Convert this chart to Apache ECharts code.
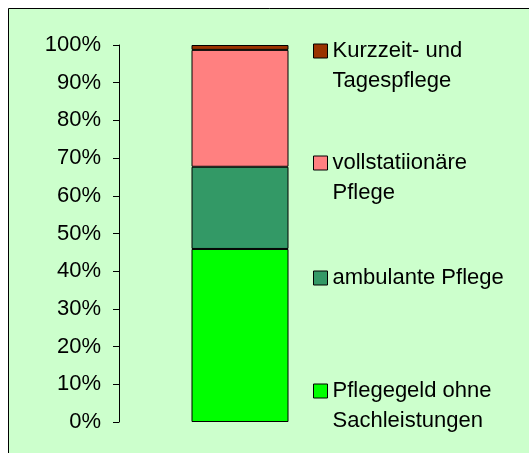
<!DOCTYPE html>
<html>
<head>
<meta charset="utf-8">
<script src="https://cdn.jsdelivr.net/npm/echarts@6/dist/echarts.min.js"></script>
<style>
html,body{margin:0;padding:0;background:#fff;}
#chart{width:529px;height:453px;}
</style>
</head>
<body>
<div id="chart"></div>
<script>
const categories = [''];
const seriesNames = [
  'Pflegegeld ohne\nSachleistungen',
  'ambulante Pflege',
  'vollstatiionäre\nPflege',
  'Kurzzeit- und\nTagespflege'
];
const pflegegeld = [45.9];
const ambulant = [21.8];
const vollstationaer = [31.0];
const kurzzeit = [1.3];
const seriesValues = [pflegegeld, ambulant, vollstationaer, kurzzeit];
const seriesColors = ['#00ff00', '#339966', '#ff8080', '#993300'];
const legendTops = [346, 263, 118, 6];

const FONT = '"Liberation Sans", Arial, sans-serif';
const chart = echarts.init(document.getElementById('chart'), null, {renderer: 'canvas'});

const option = {
  animation: false,
  graphic: [{
    type: 'rect', z: -100, silent: true,
    shape: {x: 8.5, y: 8.5, width: 560, height: 480},
    style: {fill: '#ccffcc', stroke: '#000', lineWidth: 1}
  }],
  grid: {left: 119, right: 168, top: 45, bottom: 31},
  xAxis: {
    type: 'category', data: categories, show: false
  },
  yAxis: {
    type: 'value', min: 0, max: 100, interval: 10,
    axisLine: {show: true, lineStyle: {color: '#000', width: 1}},
    axisTick: {show: true, length: 6, inside: false, lineStyle: {color: '#000'}},
    splitLine: {show: false},
    axisLabel: {formatter: '{value}%', fontSize: 22, color: '#000', fontFamily: FONT, margin: 18, padding: [3, 0, 0, 0]}
  },
  legend: seriesNames.map((n, i) => ({
    data: [n],
    left: 313,
    top: legendTops[i],
    orient: 'vertical',
    padding: 0,
    itemWidth: 14,
    itemHeight: 14,
    itemGap: 0,
    icon: 'rect',
    selectedMode: false,
    itemStyle: {borderColor: '#000', borderWidth: 1},
    formatter: name => (name.indexOf('\n') >= 0 ? ' \n' + name : name),
    textStyle: {fontSize: 22, lineHeight: 30, color: '#000', fontFamily: FONT}
  })),
  series: seriesNames.map((n, i) => ({
    type: 'bar',
    name: n,
    stack: 'total',
    data: seriesValues[i],
    barWidth: 97,
    itemStyle: {color: seriesColors[i], borderColor: '#000', borderWidth: 1}
  }))
};
chart.setOption(option);
</script>
</body>
</html>
